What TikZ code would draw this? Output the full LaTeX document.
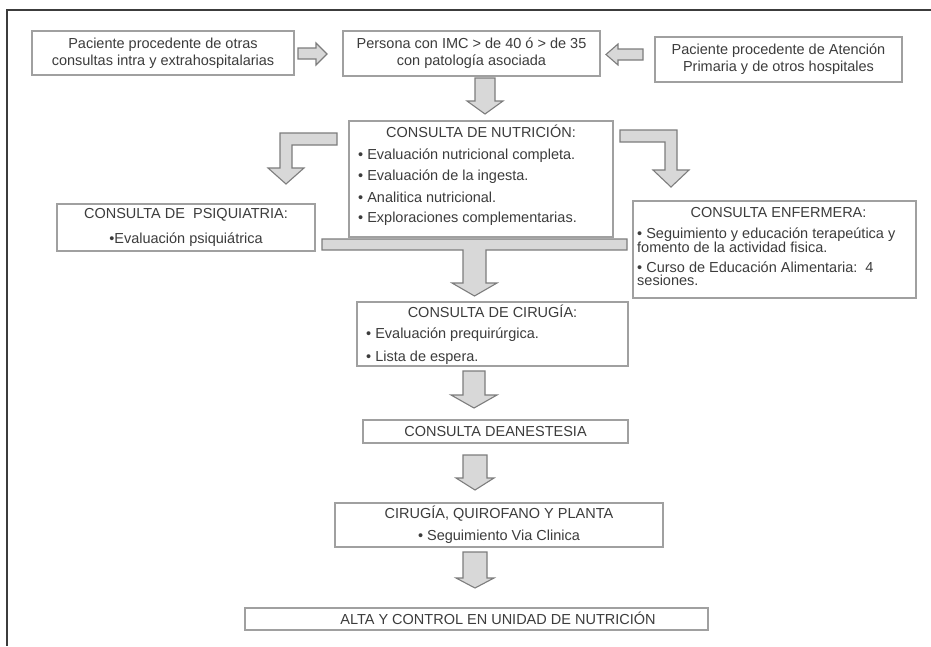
\documentclass[tikz,border=0pt]{standalone}
\usepackage{fontspec}
\setmainfont{Liberation Sans}
\definecolor{txtc}{RGB}{60,60,60}
\definecolor{boxc}{RGB}{160,160,160}
\definecolor{arrf}{RGB}{216,216,216}
\definecolor{arrd}{RGB}{125,125,125}
\definecolor{frmc}{RGB}{60,60,60}
\newcommand\myfs{\fontsize{14.5}{17}\selectfont}
\begin{document}
\begin{tikzpicture}[x=1pt,y=-1pt,
  box/.style={draw=boxc, line width=1.3pt, fill=white, inner sep=0pt, text=txtc, font=\myfs, align=center},
  blk/.style={draw=arrd, fill=arrf, line width=1.1pt, line join=miter},
  lbl/.style={text=txtc, font=\myfs, inner sep=0pt}]
\useasboundingbox (0,0) rectangle (931,646);
\draw[frmc, line width=2pt] (931,10) -- (7,10) -- (7,646);

% boxes
\node[box, minimum width=262pt, minimum height=44pt] (a) at (163,53) {Paciente procedente de otras\\consultas intra y extrahospitalarias};
\node[box, minimum width=257pt, minimum height=45pt] (b) at (471.5,53.5) {Persona con IMC > de 40 ó > de 35\\con patología asociada};
\node[box, minimum width=247pt, minimum height=45pt] (c) at (778.5,59.5) {Paciente procedente de Atención\\Primaria y de otros hospitales};

\node[box, minimum width=264pt, minimum height=116pt] (d) at (481,179) {};
\node[lbl, anchor=base] (dt) at (481,137) {CONSULTA DE NUTRICIÓN:};
\node[lbl, anchor=base west] (d1) at (358,159) {• Evaluación nutricional completa.};
\node[lbl, anchor=base west] (d2) at (358,180) {• Evaluación de la ingesta.};
\node[lbl, anchor=base west] (d3) at (358,202) {• Analitica nutricional.};
\node[lbl, anchor=base west] (d4) at (358,222) {• Exploraciones complementarias.};

\node[box, minimum width=258pt, minimum height=47pt] (e) at (186,227.5) {CONSULTA DE\ \ PSIQUIATRIA:\\[8pt]•Evaluación psiquiátrica};

\node[box, minimum width=283pt, minimum height=97pt] (f) at (774.5,249.5) {};
\node[lbl, anchor=base] (ft) at (778.5,217) {CONSULTA ENFERMERA:};
\node[lbl, anchor=base west] (f1) at (637,238) {• Seguimiento y educación terapeútica y};
\node[lbl, anchor=base west] (f2) at (637,252) {fomento de la actividad fisica.};
\node[lbl, anchor=base west] (f3) at (637,272) {• Curso de Educación Alimentaria:\ \ 4};
\node[lbl, anchor=base west] (f4) at (637,285) {sesiones.};

\node[box, minimum width=271pt, minimum height=64pt] (g) at (492.5,334) {};
\node[lbl, anchor=base] (gt) at (492.5,317) {CONSULTA DE CIRUGÍA:};
\node[lbl, anchor=base west] (g1) at (366,338) {• Evaluación prequirúrgica.};
\node[lbl, anchor=base west] (g2) at (366,361) {• Lista de espera.};

\node[box, minimum width=265pt, minimum height=23pt] (h) at (495.5,431.5) {CONSULTA DEANESTESIA};

\node[box, minimum width=328pt, minimum height=44pt] (i) at (499,525) {CIRUGÍA, QUIROFANO Y PLANTA\\[5pt]• Seguimiento Via Clinica};

\node[box, minimum width=463pt, minimum height=22pt] (j) at (476.5,619) {};
\node[lbl, anchor=base] (jt) at (498,624) {ALTA Y CONTROL EN UNIDAD DE NUTRICIÓN};

% block arrows
\draw[blk] (298,48) -- (316,48) -- (316,43) -- (327,54) -- (316,65) -- (316,59) -- (298,59) -- cycle;
\draw[blk] (643,49) -- (618,49) -- (618,44) -- (606,54.5) -- (618,65) -- (618,60) -- (643,60) -- cycle;
\draw[blk] (475,78) -- (495,78) -- (495,101) -- (503,101) -- (485,114) -- (467,101) -- (475,101) -- cycle;
\draw[blk] (337,133) -- (280,133) -- (280,168) -- (268,168) -- (286,184) -- (304,168) -- (292,168) -- (292,145) -- (337,145) -- cycle;
\draw[blk] (620,130) -- (677,130) -- (677,170) -- (689,170) -- (671,187) -- (653,170) -- (665,170) -- (665,142) -- (620,142) -- cycle;
\draw[blk] (322,239) -- (627,239) -- (627,250) -- (486,250) -- (486,283) -- (497,283) -- (474.5,296) -- (452,283) -- (463,283) -- (463,250) -- (322,250) -- cycle;
\draw[blk] (463,371) -- (485,371) -- (485,395) -- (497,395) -- (474,408) -- (451,395) -- (463,395) -- cycle;
\draw[blk] (463,455) -- (487,455) -- (487,478) -- (494,478) -- (475,490) -- (456,478) -- (463,478) -- cycle;
\draw[blk] (463,552) -- (487,552) -- (487,578) -- (494,578) -- (475,588) -- (456,578) -- (463,578) -- cycle;
\end{tikzpicture}
\end{document}
